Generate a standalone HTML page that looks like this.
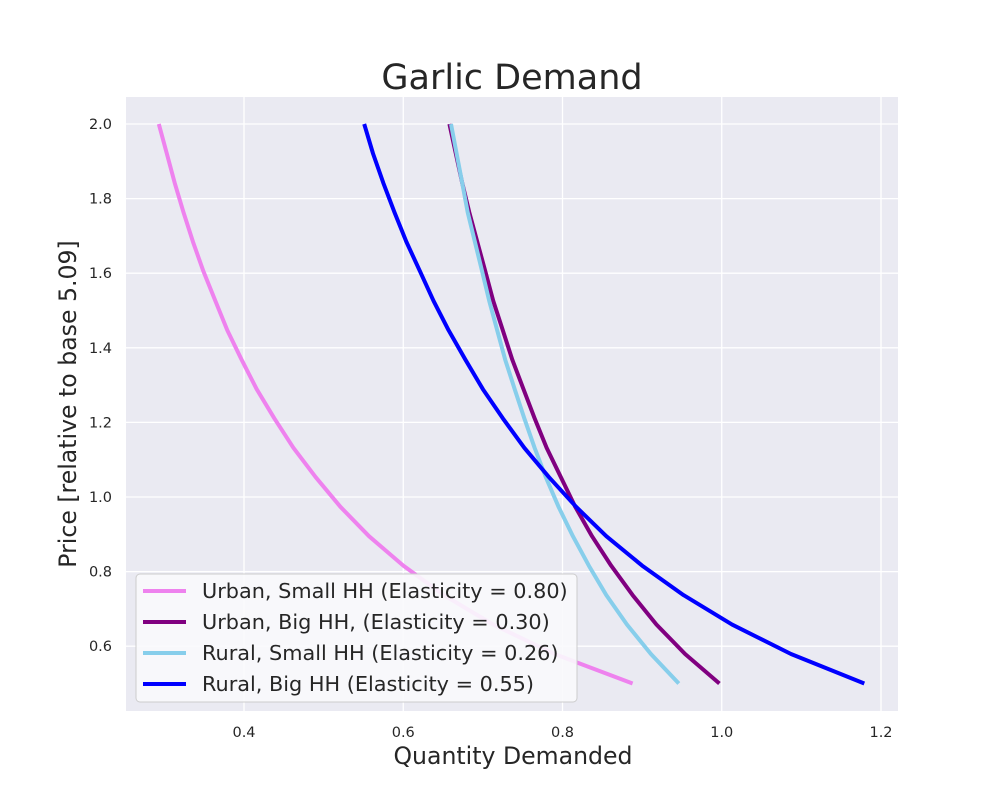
<!DOCTYPE html>
<html><head><meta charset="utf-8"><style>
body{margin:0;background:#fff}
svg{display:block;font-family:"DejaVu Sans","Liberation Sans",sans-serif}
</style></head><body>
<svg id="chart" width="1000" height="800">
<rect x="0" y="0" width="1000" height="800" fill="#fff"/>
<rect x="126" y="97" width="772" height="614" fill="#eaeaf2"/>
<g id="grid"></g>
<g id="ticks"></g>
<g id="lines"></g>
<text x="512" y="89" font-size="35" text-anchor="middle" fill="#262626">Garlic Demand</text>
<text x="513" y="764" font-size="23.6" text-anchor="middle" fill="#262626">Quantity Demanded</text>
<text transform="translate(76,404) rotate(-90)" font-size="23.6" text-anchor="middle" fill="#262626">Price [relative to base 5.09]</text>
<g id="legend">
<rect x="136" y="574" width="441" height="128" rx="4" fill="#fafafc" fill-opacity="0.9" stroke="#cccccc" stroke-width="1"/>
</g>
</svg>
<script>
const prices=[0.5,0.579,0.658,0.737,0.816,0.895,0.974,1.053,1.132,1.211,1.289,1.368,1.447,1.526,1.605,1.684,1.763,1.842,1.921,2.0];
const urbanSmall=[0.888,0.790,0.713,0.651,0.600,0.557,0.521,0.490,0.462,0.438,0.416,0.397,0.379,0.364,0.349,0.336,0.324,0.313,0.303,0.293];
const urbanBig=[0.997,0.954,0.918,0.888,0.861,0.837,0.816,0.798,0.780,0.765,0.751,0.737,0.725,0.713,0.703,0.693,0.683,0.674,0.666,0.658];
const ruralSmall=[0.946,0.911,0.881,0.855,0.833,0.813,0.795,0.779,0.765,0.752,0.740,0.728,0.718,0.708,0.699,0.690,0.681,0.674,0.667,0.660];
const ruralBig=[1.179,1.087,1.013,0.952,0.900,0.855,0.817,0.783,0.752,0.725,0.700,0.678,0.657,0.638,0.621,0.604,0.589,0.575,0.562,0.551];
const seriesNames=["Urban, Small HH (Elasticity = 0.80)","Urban, Big HH, (Elasticity = 0.30)","Rural, Small HH (Elasticity = 0.26)","Rural, Big HH (Elasticity = 0.55)"];
const xTicks=[0.4,0.6,0.8,1.0,1.2];
const yTicks=[0.6,0.8,1.0,1.2,1.4,1.6,1.8,2.0];

const NS="http://www.w3.org/2000/svg";
const X=v=>244+(v-0.4)*796.25;
const Y=v=>497-(v-1)*373;
function mk(tag,attrs,parent){const e=document.createElementNS(NS,tag);for(const k in attrs)e.setAttribute(k,attrs[k]);parent.appendChild(e);return e;}
const grid=document.getElementById('grid'),ticks=document.getElementById('ticks'),lines=document.getElementById('lines'),legend=document.getElementById('legend');
xTicks.forEach(t=>{
  const l=mk('line',{x1:X(t),x2:X(t),y1:97,y2:711,stroke:'#fff','stroke-width':1.3},grid);
  
  
  const tx=mk('text',{x:X(t),y:737,'font-size':14.5,'text-anchor':'middle',fill:'#262626'},ticks);
  tx.textContent=t.toFixed(1);
  
  
});
yTicks.forEach(t=>{
  const l=mk('line',{x1:126,x2:898,y1:Y(t),y2:Y(t),stroke:'#fff','stroke-width':1.3},grid);
  
  
  const tx=mk('text',{x:112,y:Y(t)+5,'font-size':14.5,'text-anchor':'end',fill:'#262626'},ticks);
  tx.textContent=t.toFixed(1);
  
  
});
const series=[urbanSmall,urbanBig,ruralSmall,ruralBig];
const colors=['#ee82ee','#800080','#87ceeb','#0000ff'];
const names=['urban-small-line','urban-big-line','rural-small-line','rural-big-line'];
series.forEach((s,i)=>{
  const d=s.map((q,j)=>(j?'L':'M')+X(q).toFixed(1)+','+Y(prices[j]).toFixed(1)).join(' ');
  const p=mk('path',{d:d,fill:'none',stroke:colors[i],'stroke-width':4,'stroke-linejoin':'round'},lines);
  
  
});
seriesNames.forEach((n,i)=>{
  const y=591+i*31;
  const g=mk('g',{},legend);
  
  
  mk('line',{x1:143,x2:186,y1:y,y2:y,stroke:colors[i],'stroke-width':4},g);
  const t=mk('text',{x:202,y:y+7,'font-size':20.8,fill:'#262626'},g);
  t.textContent=n;
});
</script>
</body></html>
